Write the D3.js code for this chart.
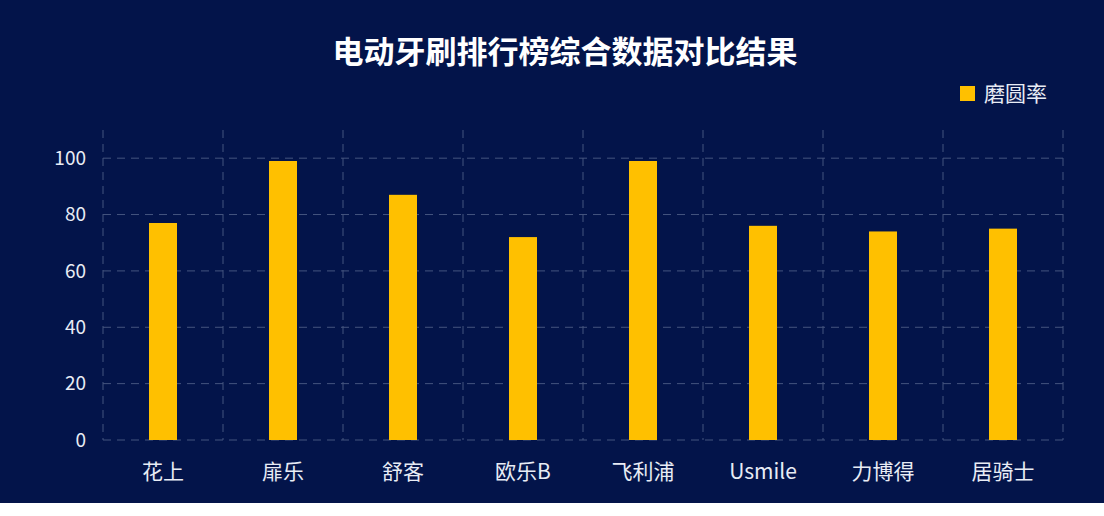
<!DOCTYPE html>
<html><head><meta charset="utf-8">
<script src="https://cdn.jsdelivr.net/npm/d3@7.9.0/dist/d3.min.js"></script>
<style>body{margin:0;background:#fff}svg{display:block}</style>
</head><body><svg width="1104" height="516"></svg>
<script>
// chart data
const categories = ['花上', '扉乐', '舒客', '欧乐B', '飞利浦', 'Usmile', '力博得', '居骑士'];
const values = [77, 99, 87, 72, 99, 76, 74, 75];
const yTicks = [0, 20, 40, 60, 80, 100];
const seriesName = '磨圆率';

const svg = d3.select('svg');
const font = '"Noto Sans CJK SC", "Noto Sans", sans-serif';
svg.append('rect').attr('width', 1104).attr('height', 503).attr('fill', '#03144a');

const x = d3.scaleBand().domain(categories).range([103, 1063]);
const y = d3.scaleLinear().domain([0, 110]).range([440, 130]);

// horizontal grid
svg.append('g').selectAll('line').data(yTicks).join('line')
  .attr('x1', 103).attr('x2', 1063)
  .attr('y1', d => y(d)).attr('y2', d => y(d))
  .attr('stroke', '#45557f').attr('stroke-dasharray', '8,6');

// vertical grid at band edges
const edges = categories.map(c => x(c)).concat([x.range()[1]]);
svg.append('g').selectAll('line').data(edges).join('line')
  .attr('x1', d => d).attr('x2', d => d)
  .attr('y1', 130).attr('y2', 440)
  .attr('stroke', '#45557f').attr('stroke-dasharray', '8,6');

// y labels
svg.append('g').selectAll('text').data(yTicks).join('text')
  .attr('x', 86).attr('y', d => y(d)).attr('dy', '0.35em')
  .attr('text-anchor', 'end').attr('fill', '#e8ecf5')
  .attr('font-family', font).attr('font-size', 19).text(d => d);

// bars
const bw = 28;
svg.append('g').selectAll('rect').data(values).join('rect')
  .attr('x', (d, i) => x(categories[i]) + x.bandwidth() / 2 - bw / 2)
  .attr('width', bw)
  .attr('y', d => y(d)).attr('height', d => y(0) - y(d))
  .attr('fill', '#ffc000');

// x labels
svg.append('g').selectAll('text').data(categories).join('text')
  .attr('x', d => x(d) + x.bandwidth() / 2).attr('y', 479)
  .attr('text-anchor', 'middle').attr('fill', '#e8ecf5')
  .attr('font-family', font).attr('font-size', 21).text(d => d);

// title
svg.append('text').attr('x', 565).attr('y', 63).attr('text-anchor', 'middle')
  .attr('fill', '#ffffff').attr('font-family', font).attr('font-weight', 'bold')
  .attr('font-size', 31).text('电动牙刷排行榜综合数据对比结果');

// legend
svg.append('rect').attr('x', 960).attr('y', 86).attr('width', 15).attr('height', 15).attr('fill', '#ffc000');
svg.append('text').attr('x', 984).attr('y', 94).attr('dy', '0.35em')
  .attr('fill', '#e8ecf5').attr('font-family', font).attr('font-size', 21).text(seriesName);
</script></body></html>
